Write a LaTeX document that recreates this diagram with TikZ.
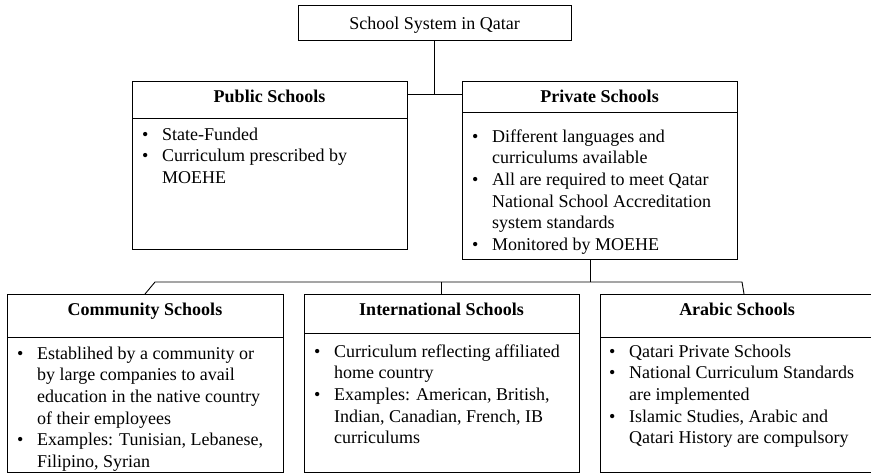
\documentclass[tikz,border=0pt]{standalone}
\usepackage{fontspec}
\setmainfont{Liberation Serif}
\usetikzlibrary{calc}

\tikzset{
  box/.style={draw, line width=0.9pt, inner sep=0pt, outer sep=0pt},
  head/.style={font=\fontsize{18}{21.7}\selectfont\bfseries, anchor=base, inner sep=0pt},
  body/.style={font=\fontsize{18}{21.7}\selectfont, anchor=base west, inner sep=0pt},
  link/.style={line width=0.9pt}
}
\newcommand{\pointlist}[1]{\begin{tabular}[t]{@{}p{20pt}@{}l@{}}#1\end{tabular}}

\begin{document}
\begin{tikzpicture}[x=1pt,y=-1pt]
\useasboundingbox (0,0) rectangle (871,475);
\clip (0,0) rectangle (871,475);

%Boxes
\node[box, minimum width=273pt, minimum height=35pt, text height=13pt, text depth=0pt,
  font=\fontsize{18}{21.7}\selectfont] (top) at (434.5,22.5) {School System in Qatar};
\node[box, minimum width=275pt, minimum height=168pt] (public) at (269.5,165) {};
\node[box, minimum width=275pt, minimum height=178pt] (private) at (599.5,170) {};
\node[box, minimum width=276pt, minimum height=178pt] (community) at (145,383) {};
\node[box, minimum width=275pt, minimum height=178pt] (international) at (441.5,383) {};
\node[box, minimum width=276pt, minimum height=178pt] (arabic) at (738,383) {};

%Header rules
\draw[box] (public.west |- 0,118) -- (public.east |- 0,118);
\draw[box] (private.west |- 0,112) -- (private.east |- 0,112);
\draw[box] (community.west |- 0,337) -- (community.east |- 0,337);
\draw[box] (international.west |- 0,333) -- (international.east |- 0,333);
\draw[box] (arabic.west |- 0,337) -- (arabic.east |- 0,337);

%Headers
\node[head] (publichead) at (public.north |- 0,102) {Public Schools};
\node[head] (privatehead) at (private.north |- 0,102) {Private Schools};
\node[head] (communityhead) at (community.north |- 0,315) {Community Schools};
\node[head] (internationalhead) at (international.north |- 0,315) {International Schools};
\node[head] (arabichead) at (737,315) {Arabic Schools};

%Points
\node[body] (publicbody) at (142,140) {\pointlist{
  \textbullet & State-Funded\\
  \textbullet & Curriculum prescribed by\\
              & MOEHE}};
\node[body] (privatebody) at (472,142) {\pointlist{
  \textbullet & Different languages and\\
              & curriculums available\\
  \textbullet & All are required to meet Qatar\\
              & National School Accreditation\\
              & system standards\\
  \textbullet & Monitored by MOEHE}};
\node[body] (communitybody) at (17,359) {\pointlist{
  \textbullet & Establihed by a community or\\
              & by large companies to avail\\
              & education in the native country\\
              & of their employees\\
  \textbullet & Examples: Tunisian, Lebanese,\\
              & Filipino, Syrian}};
\node[body] (internationalbody) at (314,357) {\pointlist{
  \textbullet & Curriculum reflecting affiliated\\
              & home country\\
  \textbullet & Examples: American, British,\\
              & Indian, Canadian, French, IB\\
              & curriculums}};
\node[body] (arabicbody) at (609,357) {\pointlist{
  \textbullet & Qatari Private Schools\\
  \textbullet & National Curriculum Standards\\
              & are implemented\\
  \textbullet & Islamic Studies, Arabic and\\
              & Qatari History are compulsory}};

%Connectors
\coordinate (topjoin) at (top.south |- 0,94);
\draw[link] (top.south) -- (topjoin);
\draw[link] (public.east |- topjoin) -- (private.west |- topjoin);

\coordinate (privjoin) at (590,282);
\coordinate (busL) at (155,282);
\coordinate (busR) at (742,282);
\draw[link] (privjoin |- private.south) -- (privjoin);
\draw[link] (community.north) -- (busL) -- (busR) -- ([xshift=6pt]arabic.north);
\draw[link] (international.north |- busL) -- (international.north);

\end{tikzpicture}
\end{document}
